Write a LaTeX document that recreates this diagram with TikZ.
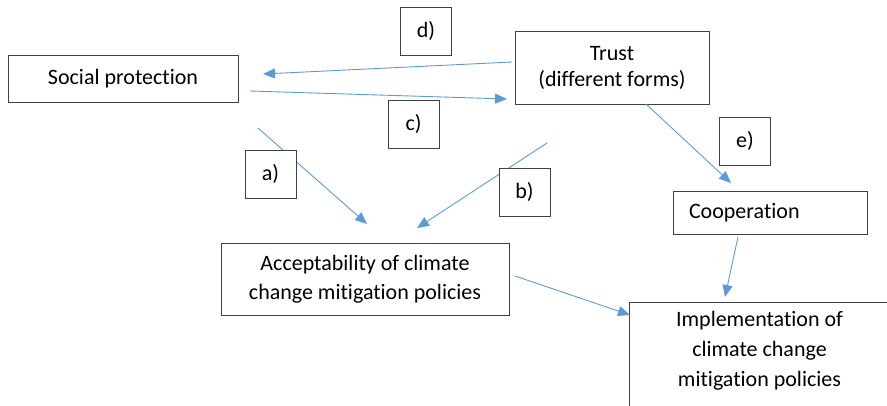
\documentclass[tikz,border=0pt]{standalone}
\usepackage{fontspec}
\setmainfont{Carlito}[Ligatures=NoCommon]
\usetikzlibrary{arrows.meta}
\definecolor{linkblue}{HTML}{5B9BD5}
\definecolor{boxline}{HTML}{404040}
\begin{document}
\begin{tikzpicture}[x=1pt,y=-1pt,
  box/.style={draw=boxline, line width=1pt, fill=white, inner sep=0pt, align=center},
  tag/.style={draw=boxline, line width=1pt, fill=white, minimum width=51pt,
    minimum height=48pt, inner sep=0pt, font=\fontsize{22}{26}\selectfont},
  link/.style={draw=linkblue, line width=0.9pt, -{Triangle[length=12pt,width=10pt]}}]
\useasboundingbox (0,0) rectangle (887,405);
\begin{scope}
\clip (0,0) rectangle (887,405);

% main boxes
\node[box, minimum width=230pt, minimum height=47pt,
  font=\fontsize{22}{26}\selectfont] (sp) at (123,78.5) {Social protection};
\node[box, minimum width=194pt, minimum height=73pt,
  font=\fontsize{22}{26}\selectfont] (trust) at (612,67.5) {Trust\\(different forms)};
\node[box, minimum width=288pt, minimum height=72pt,
  font=\fontsize{22}{29}\selectfont] (acc) at (365,279)
  {Acceptability of climate\\change mitigation policies};
\node[box, minimum height=43pt, text width=162pt, inner xsep=16pt, align=left,
  font=\fontsize{22}{26}\selectfont] (coop) at (770,212.5) {Cooperation};
\node[box, anchor=north, minimum width=261pt, inner ysep=9pt,
  font=\fontsize{22}{30}\selectfont] (impl) at (759.5,302)
  {Implementation of\\climate change\\mitigation policies\\\mbox{}};

% free ends of the connectors
\coordinate (d0) at (512,62);   \coordinate (d1) at (263,74);
\coordinate (c0) at (250,91);   \coordinate (c1) at (507,99);
\coordinate (a0) at (258,128);  \coordinate (a1) at (367,224);
\coordinate (b0) at (547,143);  \coordinate (b1) at (417,228);
\coordinate (e0) at (646,104);  \coordinate (e1) at (731,183);
\coordinate (f0) at (738,237);  \coordinate (f1) at (725,297);
\coordinate (g0) at (515,276);  \coordinate (g1) at (630,315);

% connectors
\draw[link] (d0) -- (d1);
\draw[link] (c0) -- (c1);
\draw[link] (a0) -- (a1);
\draw[link] (b0) -- (b1);
\draw[link] (e0) -- (e1);
\draw[link] (f0) -- (f1);
\draw[link] (g0) -- (g1);

% path labels
\node[tag] (ld) at (426,31) {d)};
\node[tag] (lc) at (413.5,124) {c)};
\node[tag] (la) at (270.5,174) {a)};
\node[tag] (lb) at (524.5,192) {b)};
\node[tag] (le) at (745,141) {e)};
\end{scope}
\end{tikzpicture}
\end{document}
